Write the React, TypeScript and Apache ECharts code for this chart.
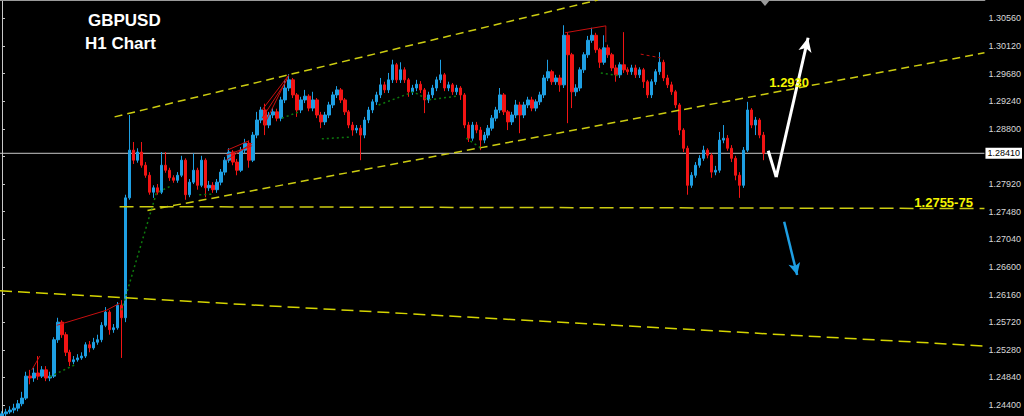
import React, { useEffect, useRef } from "react";
import * as echarts from "echarts";

// ---- candle data (H1 GBPUSD), open of each bar = previous close ----
const firstOpen = 1.2422;
const closes = [
  1.2426, 1.2429, 1.2432, 1.2435, 1.2442, 1.2451, 1.2486, 1.2483, 1.2491, 1.2486,
  1.2496, 1.2483, 1.2486, 1.2544, 1.2572, 1.2552, 1.2524, 1.2509, 1.2512, 1.2515,
  1.2518, 1.2536, 1.2531, 1.2540, 1.2544, 1.2567, 1.2588, 1.2560, 1.2563, 1.2599,
  1.2579, 1.2770, 1.2846, 1.2830, 1.2843, 1.2822, 1.2806, 1.2779, 1.2786, 1.2779,
  1.2822, 1.2814, 1.2802, 1.2798, 1.2806, 1.2830, 1.2775, 1.2795, 1.2814, 1.2790,
  1.2830, 1.2786, 1.2790, 1.2783, 1.2795, 1.2811, 1.2830, 1.2843, 1.2827, 1.2814,
  1.2846, 1.2857, 1.2830, 1.2870, 1.2894, 1.2910, 1.2886, 1.2902, 1.2907, 1.2897,
  1.2926, 1.2945, 1.2958, 1.2934, 1.2910, 1.2926, 1.2932, 1.2913, 1.2926, 1.2902,
  1.2891, 1.2902, 1.2918, 1.2934, 1.2942, 1.2926, 1.2907, 1.2886, 1.2878, 1.2881,
  1.2870, 1.2894, 1.2910, 1.2923, 1.2934, 1.2950, 1.2942, 1.2958, 1.2982, 1.2958,
  1.2974, 1.2958, 1.2939, 1.2945, 1.2951, 1.2942, 1.2926, 1.2934, 1.2945, 1.2958,
  1.2966, 1.2945, 1.2950, 1.2939, 1.2945, 1.2934, 1.2886, 1.2865, 1.2886, 1.2878,
  1.2862, 1.2870, 1.2881, 1.2897, 1.2910, 1.2934, 1.2907, 1.2891, 1.2902, 1.2918,
  1.2902, 1.2918, 1.2926, 1.2913, 1.2923, 1.2934, 1.2961, 1.2971, 1.2955, 1.2961,
  1.2950, 1.3029, 1.2998, 1.2939, 1.2945, 1.2974, 1.2998, 1.3021, 1.3029, 1.3006,
  1.2986, 1.3009, 1.2998, 1.2977, 1.2966, 1.2982, 1.2974, 1.2971, 1.2977, 1.2966,
  1.2974, 1.2955, 1.2934, 1.2955, 1.2971, 1.2986, 1.2961, 1.2950, 1.2939, 1.2918,
  1.2878, 1.2849, 1.2790, 1.2806, 1.2822, 1.2833, 1.2846, 1.2838, 1.2811, 1.2814,
  1.2862, 1.2865, 1.2849, 1.2833, 1.2806, 1.2790, 1.2846, 1.2910, 1.2886, 1.2894,
  1.2870, 1.2841,
];
const highs = [
  1.2430, 1.2434, 1.2438, 1.2442, 1.2448, 1.2461, 1.2493, 1.2496, 1.2499, 1.2518,
  1.2502, 1.2502, 1.2493, 1.2548, 1.2579, 1.2575, 1.2556, 1.2528, 1.2518, 1.2521,
  1.2524, 1.2540, 1.2542, 1.2547, 1.2552, 1.2572, 1.2596, 1.2591, 1.2569, 1.2604,
  1.2607, 1.2775, 1.2902, 1.2859, 1.2849, 1.2859, 1.2827, 1.2811, 1.2790, 1.2792,
  1.2843, 1.2843, 1.2818, 1.2806, 1.2811, 1.2837, 1.2833, 1.2800, 1.2841, 1.2818,
  1.2837, 1.2833, 1.2797, 1.2795, 1.2800, 1.2816, 1.2835, 1.2849, 1.2846, 1.2832,
  1.2851, 1.2864, 1.2861, 1.2875, 1.2907, 1.2915, 1.2920, 1.2907, 1.2913, 1.2912,
  1.2931, 1.2958, 1.2967, 1.2961, 1.2937, 1.2931, 1.2942, 1.2935, 1.2939, 1.2929,
  1.2907, 1.2907, 1.2923, 1.2939, 1.2948, 1.2945, 1.2929, 1.2910, 1.2891, 1.2886,
  1.2886, 1.2899, 1.2915, 1.2927, 1.2939, 1.2961, 1.2955, 1.2969, 1.2990, 1.2985,
  1.2986, 1.2978, 1.2961, 1.2950, 1.2958, 1.2956, 1.2945, 1.2939, 1.2950, 1.2963,
  1.2990, 1.2969, 1.2955, 1.2953, 1.2950, 1.2948, 1.2937, 1.2891, 1.2891, 1.2891,
  1.2883, 1.2875, 1.2886, 1.2902, 1.2915, 1.2945, 1.2937, 1.2910, 1.2907, 1.2926,
  1.2923, 1.2923, 1.2931, 1.2931, 1.2927, 1.2939, 1.2966, 1.2990, 1.2974, 1.2966,
  1.2966, 1.3045, 1.3034, 1.3001, 1.2951, 1.2978, 1.3002, 1.3028, 1.3041, 1.3033,
  1.3009, 1.3029, 1.3014, 1.3001, 1.2982, 1.2986, 1.3034, 1.2978, 1.2982, 1.2982,
  1.2978, 1.2977, 1.2958, 1.2959, 1.2975, 1.3002, 1.2990, 1.2966, 1.2955, 1.2942,
  1.2921, 1.2881, 1.2853, 1.2811, 1.2827, 1.2838, 1.2853, 1.2849, 1.2841, 1.2821,
  1.2875, 1.2886, 1.2870, 1.2854, 1.2837, 1.2811, 1.2851, 1.2923, 1.2913, 1.2899,
  1.2897, 1.2875,
];
const lows = [
  1.2419, 1.2421, 1.2426, 1.2427, 1.2430, 1.2438, 1.2448, 1.2473, 1.2477, 1.2480,
  1.2483, 1.2478, 1.2478, 1.2483, 1.2539, 1.2547, 1.2518, 1.2502, 1.2505, 1.2509,
  1.2512, 1.2515, 1.2524, 1.2528, 1.2536, 1.2540, 1.2564, 1.2552, 1.2555, 1.2560,
  1.2515, 1.2572, 1.2767, 1.2824, 1.2826, 1.2818, 1.2802, 1.2775, 1.2770, 1.2775,
  1.2776, 1.2810, 1.2797, 1.2794, 1.2794, 1.2803, 1.2767, 1.2771, 1.2792, 1.2783,
  1.2787, 1.2771, 1.2781, 1.2778, 1.2778, 1.2790, 1.2806, 1.2826, 1.2822, 1.2806,
  1.2811, 1.2841, 1.2818, 1.2827, 1.2865, 1.2889, 1.2870, 1.2881, 1.2897, 1.2892,
  1.2892, 1.2921, 1.2940, 1.2929, 1.2899, 1.2905, 1.2921, 1.2908, 1.2908, 1.2897,
  1.2881, 1.2886, 1.2897, 1.2913, 1.2929, 1.2921, 1.2902, 1.2881, 1.2869, 1.2873,
  1.2830, 1.2865, 1.2889, 1.2905, 1.2918, 1.2929, 1.2937, 1.2937, 1.2953, 1.2953,
  1.2953, 1.2953, 1.2931, 1.2934, 1.2940, 1.2937, 1.2905, 1.2921, 1.2929, 1.2940,
  1.2953, 1.2940, 1.2940, 1.2934, 1.2934, 1.2926, 1.2881, 1.2859, 1.2861, 1.2873,
  1.2846, 1.2857, 1.2865, 1.2877, 1.2892, 1.2905, 1.2902, 1.2878, 1.2886, 1.2897,
  1.2873, 1.2897, 1.2913, 1.2908, 1.2908, 1.2918, 1.2929, 1.2956, 1.2950, 1.2950,
  1.2939, 1.2945, 1.2889, 1.2913, 1.2932, 1.2940, 1.2969, 1.2993, 1.3017, 1.3001,
  1.2977, 1.2982, 1.2993, 1.2972, 1.2955, 1.2961, 1.2969, 1.2966, 1.2966, 1.2961,
  1.2961, 1.2945, 1.2929, 1.2929, 1.2950, 1.2966, 1.2956, 1.2945, 1.2934, 1.2913,
  1.2870, 1.2843, 1.2775, 1.2786, 1.2802, 1.2818, 1.2829, 1.2833, 1.2802, 1.2806,
  1.2810, 1.2857, 1.2845, 1.2827, 1.2798, 1.2770, 1.2786, 1.2843, 1.2881, 1.2870,
  1.2865, 1.2830,
];
const emptyBars = 55; // right-hand chart shift space
const currentPrice = 1.2841;
const priceTicks = [
  1.3056, 1.3012, 1.2968, 1.2924, 1.288, 1.2836, 1.2792, 1.2748, 1.2704, 1.266,
  1.2616, 1.2572, 1.2528, 1.2484, 1.244,
];
// 1.28360 sits under the current-price box, so its text is not written
const priceLabels = priceTicks.filter((v) => Math.abs(v - 1.2836) > 1e-6);
const priceMin = 1.24225;
const priceMax = 1.30852;

// ---- drawn objects: [bar index, price] ----
const upperChannel = [[28.25, 1.2899], [149.5, 1.30852]];
const lowerChannel = [[36.5, 1.275], [246.5, 1.3001]];
const supportLine = [[29.5, 1.2756], [246.5, 1.2753]];
const longLine = [[-0.5, 1.2622], [246.5, 1.2534]];
const greenZigzags = [
  [[12, 1.2485], [18.25, 1.2504]],
  [[30, 1.2591], [38.75, 1.2778], [42.75, 1.279]],
  [[49.5, 1.2775], [52.75, 1.2776]],
  [[70.25, 1.2897], [74.5, 1.2907]],
  [[80.25, 1.2864], [87.75, 1.2867]],
  [[94.5, 1.2918], [103.25, 1.2939], [107, 1.2926], [114, 1.2932]],
  [[116.5, 1.2865], [120.25, 1.2849]],
  [[150.25, 1.2969], [155.25, 1.2964]],
];
const redLines = [
  [[7.5, 1.2496], [9.5, 1.2518]],
  [[13.75, 1.2567], [26.25, 1.2591], [29.5, 1.2602]],
  [[56.25, 1.283], [62.75, 1.2857]],
  [[56.25, 1.2838], [62.75, 1.2853]],
  [[56.5, 1.2846], [62, 1.2861]],
  [[65.25, 1.291], [72, 1.2966]],
  [[65.25, 1.2897], [71.5, 1.2958]],
  [[65.75, 1.2886], [71.75, 1.2963]],
  [[141.25, 1.3033], [151.5, 1.3044], [151.5, 1.3018]],
];
const redDashed = [[160.25, 1.2999], [165.25, 1.2993]];
const whiteArrow = [[192.25, 1.2845], [194.25, 1.2803], [202.25, 1.3025]];
const blueArrow = [[196.25, 1.2732], [199.5, 1.2647]];
const upTargetLabel = { text: "1.2930", at: [197.5, 1.2953] };
const supportLabel = { text: "1.2755-75", at: [236.25, 1.2763] };

const UP = "#1e9fe3";
const DOWN = "#f21414";
const YELLOW = "#cccc10";

export default function App() {
  const ref = useRef<HTMLDivElement>(null);
  useEffect(() => {
    document.body.style.margin = "0";
    document.body.style.background = "#000";
    if (!ref.current) return;
    const chart = echarts.init(ref.current, undefined, { renderer: "svg" });
    const total = closes.length + emptyBars;
    const cats = Array.from({ length: total }, (_, i) => "b" + i);
    const candles = closes.map((c, i) => [i === 0 ? firstOpen : closes[i - 1], c, lows[i], highs[i]]);

    const line = (pts: number[][], color: string, type: any, width: number, z = 3) => ({
      type: "line",
      xAxisIndex: 1,
      yAxisIndex: 0,
      data: pts,
      symbol: "none",
      silent: true,
      z,
      lineStyle: { color, width, type },
      animation: false,
    });

    const series: any[] = [
      {
        type: "candlestick",
        data: candles,
        barWidth: 3,
        z: 2,
        itemStyle: { color: UP, color0: DOWN, borderColor: UP, borderColor0: DOWN, borderWidth: 1 },
      },
      {
        ...line([[-0.5, currentPrice], [total - 0.5, currentPrice]], "#c8c8c8", "solid", 1, 1),
        clip: false,
        endLabel: {
          show: true,
          distance: 1,
          formatter: currentPrice.toFixed(5),
          backgroundColor: "#ffffff",
          color: "#000000",
          fontSize: 9,
          fontFamily: "Liberation Sans, Arial",
          padding: [1, 2, 1, 2],
        },
      },
      line(upperChannel, YELLOW, [8, 5], 1.5),
      line(lowerChannel, YELLOW, [8, 5], 1.5),
      {
        ...line(supportLine, YELLOW, [14, 6], 1.5),
        markPoint: {
          silent: true,
          symbol: "circle",
          symbolSize: 0,
          data: [upTargetLabel, supportLabel].map((l) => ({
            coord: l.at,
            label: {
              show: true,
              position: "inside",
              formatter: l.text,
              color: "#f5f500",
              fontSize: 13,
              fontWeight: "bold",
              fontFamily: "Liberation Sans, Arial",
            },
          })),
        },
        markLine: {
          silent: true,
          symbol: ["none", "none"],
          label: { show: false },
          data: [
            [
              { coord: whiteArrow[0], lineStyle: { color: "#ffffff", width: 3, type: "solid" } },
              { coord: whiteArrow[1] },
            ],
            [
              { coord: whiteArrow[1], symbol: "none", lineStyle: { color: "#ffffff", width: 3, type: "solid" } },
              { coord: whiteArrow[2], symbol: "arrow", symbolSize: [10, 14] },
            ],
            [
              { coord: blueArrow[0], symbol: "none", lineStyle: { color: UP, width: 2.5, type: "solid" } },
              { coord: blueArrow[1], symbol: "arrow", symbolSize: [9, 12] },
            ],
          ],
        },
      },
      line(longLine, "#d4d400", [12, 6], 1.5),
      ...greenZigzags.map((g) => line(g, "#0d7a0d", [2, 3], 1.5)),
      ...redLines.map((r) => line(r, "#c80f0f", "solid", 1)),
      line(redDashed, "#c80f0f", [3, 3], 1),
    ];

    chart.setOption({
      animation: false,
      backgroundColor: "#000000",
      grid: { left: 0, right: 36, top: 0, bottom: 0 },
      xAxis: [
        {
          type: "category",
          data: cats,
          position: "top",
          boundaryGap: true,
          axisLine: { show: true, lineStyle: { color: "#9a9a9a", width: 2 } },
          axisTick: { show: false },
          axisLabel: { show: false },
          splitLine: { show: false },
        },
        { type: "value", min: -0.5, max: total - 0.5, show: false },
      ],
      yAxis: {
        type: "value",
        position: "right",
        min: priceMin,
        max: priceMax,
        splitLine: { show: false },
        axisLine: { show: true, lineStyle: { color: "#c8c8c8", width: 1 } },
        axisTick: { show: true, length: 3, customValues: priceTicks, lineStyle: { color: "#c8c8c8" } },
        axisLabel: {
          customValues: priceLabels,
          formatter: (v: number) => v.toFixed(5),
          color: "#d8d8d8",
          fontSize: 9,
          fontFamily: "Liberation Sans, Arial",
          margin: 4,
        },
      },
      graphic: [
        {
          type: "text",
          left: 88,
          top: 12,
          style: { text: "GBPUSD", fill: "#ffffff", font: "bold 17px 'Liberation Sans', Arial" },
        },
        {
          type: "text",
          left: 85,
          top: 35,
          style: { text: "H1 Chart", fill: "#ffffff", font: "bold 17px 'Liberation Sans', Arial" },
        },
        {
          type: "polygon",
          shape: { points: [[760, 0], [770, 0], [765, 6]] },
          style: { fill: "#9a9a9a" },
        },
      ],
      series,
    });
    return () => chart.dispose();
  }, []);
  return <div ref={ref} style={{ width: 1024, height: 416, background: "#000" }} />;
}
